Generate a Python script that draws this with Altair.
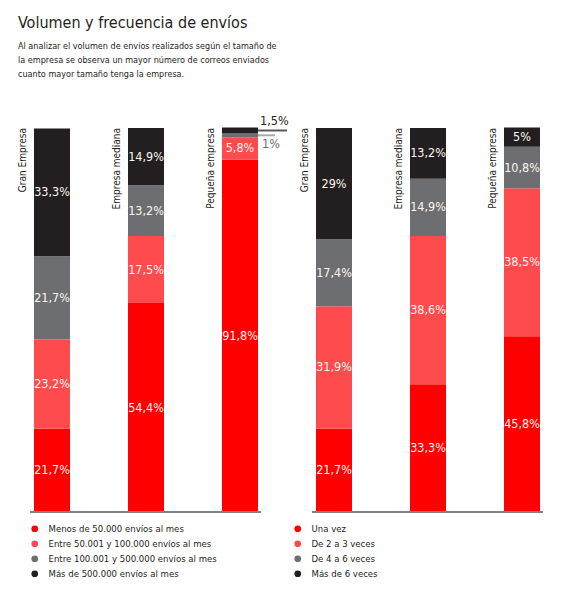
import pandas as pd
import altair as alt

# --- datos ---
empresas = ["Gran Empresa", "Empresa mediana", "Pequeña empresa"]

series_volumen = [
    "Menos de 50.000 envíos al mes",
    "Entre 50.001 y 100.000 envíos al mes",
    "Entre 100.001 y 500.000 envíos al mes",
    "Más de 500.000 envíos al mes",
]
series_frecuencia = ["Una vez", "De 2 a 3 veces", "De 4 a 6 veces", "Más de 6 veces"]

# porcentajes de abajo (rojo) hacia arriba (negro)
volumen_gran = [21.7, 23.2, 21.7, 33.3]
volumen_mediana = [54.4, 17.5, 13.2, 14.9]
volumen_pequena = [91.8, 5.8, 1.0, 1.5]

frecuencia_gran = [21.7, 31.9, 17.4, 29.0]
frecuencia_mediana = [33.3, 38.6, 14.9, 13.2]
frecuencia_pequena = [45.8, 38.5, 10.8, 5.0]

colores = ["#fe0000", "#ff4b4e", "#6d6e71", "#231f20"]

FUENTE = "DejaVu Sans Condensed, Liberation Sans Narrow, sans-serif"
TINTA = "#231f20"

# --- tabla larga con el apilado ---
paneles = {
    "vol": (series_volumen, [volumen_gran, volumen_mediana, volumen_pequena]),
    "frec": (series_frecuencia, [frecuencia_gran, frecuencia_mediana, frecuencia_pequena]),
}

filas = []
for panel, (series, valores) in paneles.items():
    for empresa, vals in zip(empresas, valores):
        base = 0.0
        for orden, (serie, v) in enumerate(zip(series, vals)):
            filas.append({
                "panel": panel,
                "empresa": empresa,
                "key": f"{panel}|{empresa}",
                "serie": serie,
                "orden": orden,
                "valor": v,
                "y0": base,
                "y1": base + v,
                "mid": base + v / 2,
                "etiqueta": ("%g" % v).replace(".", ",") + "%",
            })
            base += v
df = pd.DataFrame(filas)

claves = [f"vol|{e}" for e in empresas] + [f"frec|{e}" for e in empresas]
df_empresas = pd.DataFrame({"key": claves, "empresa": empresas * 2})
df_base = pd.DataFrame({"inicio": [claves[0], claves[3]], "fin": [claves[2], claves[5]]})

# --- escalas ---
ALTO = 423          # alto del área de dibujo
ALTO_BARRA = 384    # alto de una barra al 100 %
escala_x = alt.Scale(domain=claves, paddingInner=0.617, paddingOuter=0.2128, align=0.65)
escala_y = alt.Scale(domain=[0, 100 * ALTO / ALTO_BARRA], nice=False)

x_enc = alt.X("key:N", scale=escala_x, axis=None)


def leyenda(x, y):
    return alt.Legend(
        orient="none", legendX=x, legendY=y, title=None,
        symbolType="circle", symbolSize=45, symbolStrokeWidth=0,
        labelFont=FUENTE, labelFontSize=9.5, labelColor=TINTA, labelLimit=0,
        rowPadding=4, labelOffset=9, padding=0,
    )


barras = alt.Chart(df).mark_bar().encode(
    x=x_enc,
    y=alt.Y("y0:Q", scale=escala_y, axis=None),
    y2="y1:Q",
)

barras_vol = barras.transform_filter("datum.panel == 'vol'").encode(
    color=alt.Color("serie:N", scale=alt.Scale(domain=series_volumen, range=colores),
                    legend=leyenda(22, 435))
)
barras_frec = barras.transform_filter("datum.panel == 'frec'").encode(
    color=alt.Color("serie:N", scale=alt.Scale(domain=series_frecuencia, range=colores),
                    legend=leyenda(285, 435))
)

valores_txt = alt.Chart(df).transform_filter("datum.valor >= 3").mark_text(
    font=FUENTE, fontSize=12.5, color="#fdf6ee"
).encode(x=x_enc, y=alt.Y("mid:Q", scale=escala_y), text="etiqueta:N")

# valores pequeños fuera de la barra, con línea guía
chicos = alt.Chart(df).transform_filter("datum.valor < 3")
guia_negra = chicos.transform_filter("datum.orden == 3").mark_rule(
    color="#58595b", strokeWidth=2, xOffset=18, x2Offset=47
).encode(x=x_enc, x2="key:N", y=alt.Y("mid:Q", scale=escala_y))
guia_gris = chicos.transform_filter("datum.orden == 2").mark_rule(
    color="#a7a9ac", strokeWidth=2, xOffset=18, x2Offset=35
).encode(x=x_enc, x2="key:N", y=alt.Y("mid:Q", scale=escala_y))
txt_negro = chicos.transform_filter("datum.orden == 3").mark_text(
    font=FUENTE, fontSize=12.5, color=TINTA, align="left", xOffset=20, dy=-9
).encode(x=x_enc, y=alt.Y("mid:Q", scale=escala_y), text="etiqueta:N")
txt_gris = chicos.transform_filter("datum.orden == 2").mark_text(
    font=FUENTE, fontSize=12.5, color="#6d6e71", align="left", xOffset=22, dy=9
).encode(x=x_enc, y=alt.Y("mid:Q", scale=escala_y), text="etiqueta:N")

nombres = alt.Chart(df_empresas).mark_text(
    font=FUENTE, fontSize=10, color=TINTA, angle=270, align="right",
    baseline="middle", xOffset=-29
).encode(x=x_enc, y=alt.datum(100, scale=escala_y), text="empresa:N")

linea_base = alt.Chart(df_base).mark_rule(
    color="#808285", strokeWidth=2, xOffset=-22, x2Offset=21
).encode(
    x=alt.X("inicio:N", scale=escala_x, axis=None),
    x2="fin:N",
    y=alt.datum(0, scale=escala_y),
)

titulo = alt.TitleParams(
    text="Volumen y frecuencia de envíos",
    subtitle=[
        "Al analizar el volumen de envíos realizados según el tamaño de",
        "la empresa se observa un mayor número de correos enviados",
        "cuanto mayor tamaño tenga la empresa.",
    ],
    anchor="start", dx=10, offset=10,
    font=FUENTE, fontSize=16, fontWeight="normal", color=TINTA,
    subtitleFont=FUENTE, subtitleFontSize=9, subtitleColor=TINTA,
    subtitleLineHeight=14, subtitlePadding=11,
)

chart = alt.layer(
    barras_vol, barras_frec, valores_txt, guia_negra, guia_gris,
    txt_negro, txt_gris, nombres, linea_base,
).resolve_scale(color="independent").properties(
    width=546, height=ALTO, title=titulo,
    padding={"left": 0, "right": 0, "top": 7, "bottom": 5},
).configure_view(stroke=None)

chart.save("out.html", embed_options={"renderer": "svg", "actions": False})
